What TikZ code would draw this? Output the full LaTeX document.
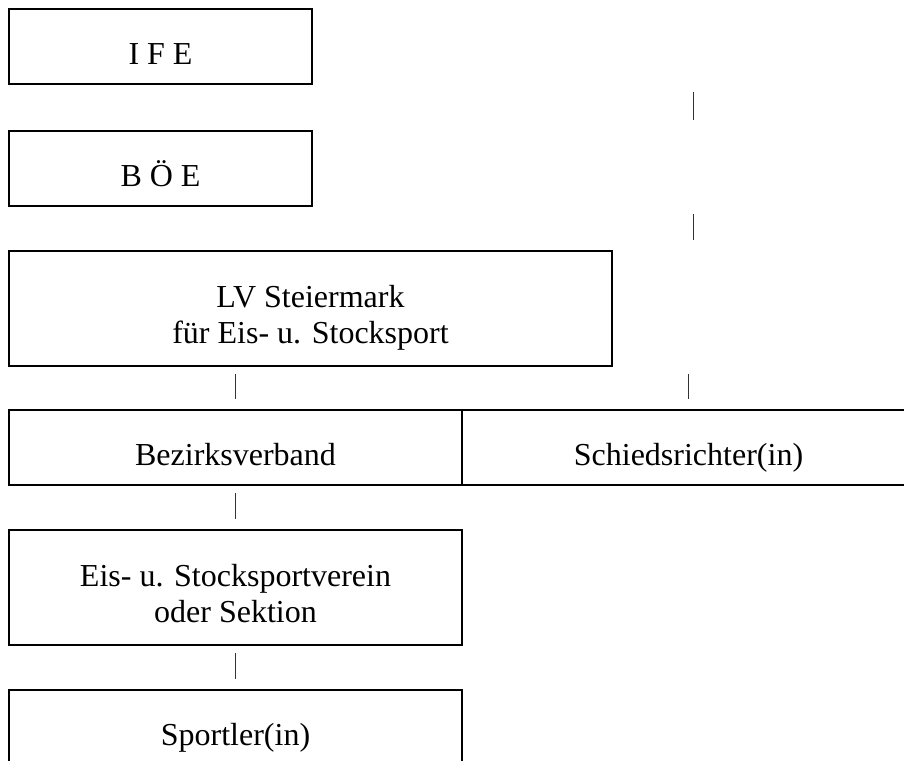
\documentclass[tikz,border=0pt]{standalone}
\usepackage{fontspec}
\setmainfont{Liberation Serif}
\usepackage{tikz}
\tikzset{
  orgbox/.style={draw,line width=1.2pt,inner sep=0pt,minimum height=37.5pt,
    text height=17.5pt,text depth=0pt,font=\fontsize{16}{18}\selectfont},
  orgtall/.style={orgbox,minimum height=57.5pt,text height=8pt,text depth=9.5pt},
  tickbar/.style={line width=0.7pt,black!80,shorten <=3.5pt,shorten >=5pt}
}
\begin{document}
\begin{tikzpicture}[x=0.5pt,y=-0.5pt]
  \useasboundingbox (0,0) rectangle (904,760);
  \clip (0,0) rectangle (904,760);
  % federation chain
  \node[orgbox,minimum width=151.5pt] (ife) at (160.5,46.5) {I F E};
  \node[orgbox,minimum width=151.5pt] (boe) at (160.5,168.5) {B Ö E};
  \node[orgtall,minimum width=301.5pt] (lv) at (310.5,308.5)
    {\begin{tabular}[t]{@{}c@{}}LV Steiermark\\für Eis- u. Stocksport\end{tabular}};
  % district row
  \node[orgbox,minimum width=226.5pt] (bez) at (235.5,447.5) {Bezirksverband};
  \node[orgbox,minimum width=226.5pt] (sch) at (688.5,447.5) {Schiedsrichter(in)};
  % club and athlete
  \node[orgtall,minimum width=226.5pt] (sek) at (235.5,587.5)
    {\begin{tabular}[t]{@{}c@{}}Eis- u. Stocksportverein\\oder Sektion\end{tabular}};
  \node[orgbox,minimum width=226.5pt] (spo) at (235.5,727.5) {Sportler(in)};
  % short bars
  \draw[tickbar] ([xshift=2.5pt]ife.south -| sch.north) -- ([xshift=2.5pt]boe.north -| sch.north);
  \draw[tickbar] ([xshift=2.5pt]boe.south -| sch.north) -- ([xshift=2.5pt]lv.north -| sch.north);
  \draw[tickbar] (lv.south -| sch.north) -- (sch.north);
  \draw[tickbar] (lv.south -| bez.north) -- (bez.north);
  \draw[tickbar] (bez.south) -- (sek.north);
  \draw[tickbar] (sek.south) -- (spo.north);
\end{tikzpicture}
\end{document}
